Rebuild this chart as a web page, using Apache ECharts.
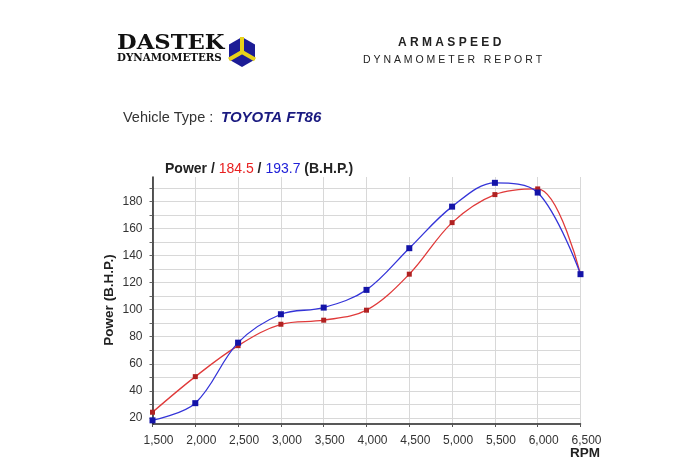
<!DOCTYPE html>
<html>
<head>
<meta charset="utf-8">
<script src="https://cdn.jsdelivr.net/npm/echarts@6/dist/echarts.min.js"></script>
<style>
  html, body { margin: 0; padding: 0; background: #fff; }
  #chart { width: 700px; height: 466px; }
</style>
</head>
<body>
<div id="chart"></div>
<script>
// rpm steps and power readings (B.H.P.)
var rpm = [1500, 2000, 2500, 3000, 3500, 4000, 4500, 5000, 5500, 6000, 6500];
var powerRed = [24.2, 50.5, 73.4, 89.2, 92.2, 99.6, 126.2, 164.3, 185.0, 189.2, 126.2];
var powerBlue = [18.2, 30.9, 75.6, 96.6, 101.5, 114.6, 145.4, 176.1, 193.7, 186.5, 126.2];
var yLabels = [20, 40, 60, 80, 100, 120, 140, 160, 180];

var chart = echarts.init(document.getElementById('chart'));

// plot area: 1500..6500 rpm, 15.5..198 bhp
var yLo = 15.5, yHi = 198;
var gTop = 177, gH = 247, gLeft = 152.5, gW = 428;
var k = gH / (yHi - yLo);

function pairs(arr) {
    return rpm.map(function (r, i) { return [r, arr[i]]; });
}

var font = 'Liberation Sans, Arial, sans-serif';

var option = {
    animation: false,
    backgroundColor: '#fff',
    grid: [
        { left: gLeft, top: gTop, width: gW, height: gH },
        // second grid only carries the gridlines/labels (20..190)
        { left: gLeft, top: gTop + (yHi - 190) * k, width: gW, height: 170 * k }
    ],
    xAxis: [{
        gridIndex: 0, type: 'value', min: 1500, max: 6500, interval: 500,
        axisLine: { show: true, lineStyle: { color: '#222', width: 1.5 } },
        axisTick: { show: true, length: 3, lineStyle: { color: '#555' } },
        splitLine: { show: true, lineStyle: { color: '#d8d8d8', width: 1 } },
        axisLabel: {
            color: '#333', fontFamily: font, fontSize: 12, margin: 11,
            padding: [0, 0, 0, 12],
            formatter: function (v) { return v.toLocaleString('en-US'); }
        }
    }, {
        gridIndex: 1, type: 'value', min: 1500, max: 6500, show: false
    }],
    yAxis: [{
        gridIndex: 0, type: 'value', min: yLo, max: yHi,
        axisLine: { show: true, lineStyle: { color: '#222', width: 1.5 } },
        axisTick: { show: false }, axisLabel: { show: false },
        splitLine: { show: false }
    }, {
        gridIndex: 1, type: 'value', min: 20, max: 190, interval: 10,
        axisLine: { show: false },
        axisTick: { show: true, length: 3, lineStyle: { color: '#666' } },
        splitLine: { show: true, lineStyle: { color: '#d8d8d8', width: 1 } },
        axisLabel: {
            color: '#333', fontFamily: font, fontSize: 12, margin: 10,
            formatter: function (v) { return yLabels.indexOf(v) >= 0 ? String(v) : ''; }
        }
    }],
    series: [{
        name: 'red', type: 'line', xAxisIndex: 0, yAxisIndex: 0,
        data: pairs(powerRed), smooth: 0.35,
        symbol: 'rect', symbolSize: 5,
        lineStyle: { color: '#e03a3a', width: 1.3 },
        itemStyle: { color: '#b02222' }, z: 3
    }, {
        name: 'blue', type: 'line', xAxisIndex: 0, yAxisIndex: 0,
        data: pairs(powerBlue), smooth: 0.35,
        symbol: 'rect', symbolSize: 6,
        lineStyle: { color: '#3434d8', width: 1.3 },
        itemStyle: { color: '#1414a8' }, z: 4
    }],
    graphic: [
        // logo
        { type: 'text', left: 117, top: 33, scaleX: 1.08, style: { text: 'DASTEK', fontFamily: 'DejaVu Serif, serif', fontWeight: 'bold', fontSize: 21, fill: '#111' } },
        { type: 'text', left: 117, top: 53, style: { text: 'DYNAMOMETERS', fontFamily: 'DejaVu Serif, serif', fontWeight: 'bold', fontSize: 10.3, fill: '#111' } },
        { type: 'polygon', shape: { points: [[242, 37], [255, 44.5], [255, 59.5], [242, 67], [229, 59.5], [229, 44.5]] }, style: { fill: '#1c1c96' } },
        { type: 'polyline', shape: { points: [[242, 37], [242, 52], [229, 59.5]] }, style: { stroke: '#e8d21a', lineWidth: 4, fill: null } },
        { type: 'line', shape: { x1: 242, y1: 52, x2: 255, y2: 59.5 }, style: { stroke: '#e8d21a', lineWidth: 4 } },
        // header
        { type: 'text', left: 398, top: 37, style: { text: 'A R M A S P E E D', fontFamily: font, fontWeight: 'bold', fontSize: 12, fill: '#222' } },
        { type: 'text', left: 363, top: 55, style: { text: 'D Y N A M O M E T E R   R E P O R T', fontFamily: font, fontSize: 10.5, fill: '#222' } },
        { type: 'text', left: 123, top: 110, style: { text: 'Vehicle Type :', fontFamily: font, fontSize: 14.5, fill: '#333' } },
        { type: 'text', left: 221, top: 110, style: { text: 'TOYOTA FT86', fontFamily: font, fontSize: 15, fontWeight: 'bold', fontStyle: 'italic', fill: '#1a1a80' } },
        // chart title
        { type: 'text', left: 165, top: 162, style: {
            text: '{b|Power / }{r|184.5}{b| / }{u|193.7}{b| (B.H.P.)}',
            rich: {
                b: { fontFamily: font, fontSize: 14, fontWeight: 'bold', fill: '#222' },
                r: { fontFamily: font, fontSize: 14, fill: '#e82020' },
                u: { fontFamily: font, fontSize: 14, fill: '#2020d8' }
            }
        } },
        // axis names
        { type: 'text', x: 109, y: 300, rotation: Math.PI / 2, style: { text: 'Power (B.H.P.)', fontFamily: font, fontSize: 13.5, fontWeight: 'bold', fill: '#222', align: 'center', verticalAlign: 'middle' } },
        { type: 'text', left: 570, top: 446, style: { text: 'RPM', fontFamily: font, fontSize: 13.5, fontWeight: 'bold', fill: '#222' } }
    ]
};

chart.setOption(option);
</script>
</body>
</html>
